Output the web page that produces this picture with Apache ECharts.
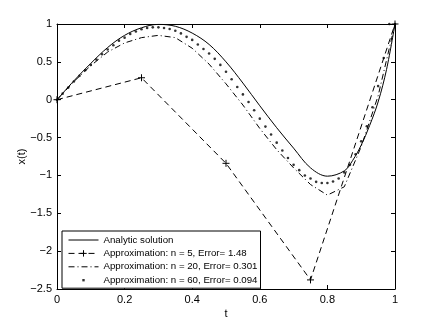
<!DOCTYPE html>
<html>
<head>
<meta charset="utf-8">
<script src="https://cdn.jsdelivr.net/npm/echarts@6/dist/echarts.min.js"></script>
<style>
  html, body { margin: 0; padding: 0; background: #fff; }
  #chart { width: 436px; height: 328px; }
</style>
</head>
<body>
<div id="chart"></div>
<script>
// analytic solution
const tAnalytic = [0, 0.05, 0.1, 0.15, 0.2, 0.25, 0.3, 0.35, 0.4, 0.45, 0.5, 0.55, 0.6, 0.65, 0.7, 0.75, 0.8, 0.85, 0.875, 0.9, 0.925, 0.95, 0.975, 1]
const xAnalytic = [0, 0.25, 0.48, 0.69, 0.85, 0.95, 0.995, 0.97, 0.88, 0.73, 0.5, 0.22, -0.08, -0.37, -0.64, -0.9, -1.01, -0.94, -0.8, -0.6, -0.34, -0.03, 0.4, 1]

// n = 5
const t5 = [0, 0.25, 0.5, 0.75, 1]
const x5 = [0, 0.29, -0.84, -2.38, 1]

// n = 20
const t20 = [0, 0.05, 0.1, 0.15, 0.2, 0.25, 0.3, 0.35, 0.4, 0.45, 0.5, 0.55, 0.6, 0.65, 0.7, 0.75, 0.8, 0.85, 0.9, 0.95, 1]
const x20 = [0, 0.24, 0.45, 0.63, 0.75, 0.82, 0.85, 0.82, 0.68, 0.47, 0.21, -0.07, -0.38, -0.66, -0.9, -1.12, -1.26, -1.15, -0.62, 0.05, 1]

// n = 60 (one dot per grid point k/60)
const x60 = [0, 0.08, 0.16, 0.24, 0.315, 0.39, 0.46, 0.53, 0.6, 0.664,
  0.72, 0.78, 0.82, 0.867, 0.9, 0.93, 0.947, 0.956, 0.956, 0.947,
  0.934, 0.91, 0.876, 0.83, 0.79, 0.73, 0.67, 0.61, 0.54, 0.46,
  0.37, 0.27, 0.167, 0.07, -0.03, -0.14, -0.25, -0.355, -0.46, -0.567,
  -0.67, -0.77, -0.86, -0.93, -1.0, -1.04, -1.085, -1.1, -1.1, -1.08,
  -1.04, -0.96, -0.86, -0.72, -0.55, -0.35, -0.1, 0.18, 0.55, 1.0, 1.0]
const t60 = x60.map((_, i) => i / 60)

const xTicks = { min: 0, max: 1, interval: 0.2 }
const yTicks = { min: -2.5, max: 1, interval: 0.5 }

const names = [
  'Analytic solution',
  'Approximation: n = 5, Error= 1.48',
  'Approximation: n = 20, Error= 0.301',
  'Approximation: n = 60, Error= 0.094'
]

const font = '"Liberation Sans", Arial, Helvetica, sans-serif'
const pairs = (ts, xs) => ts.map((t, i) => [t, xs[i]])
const minus = v => String(v).replace('-', '\u2212')

function axis(extra) {
  return Object.assign({
    type: 'value',
    splitLine: { show: false },
    axisLine: { show: true, onZero: false, lineStyle: { color: '#000', width: 1 } },
    axisTick: { show: true, inside: true, length: 4, lineStyle: { color: '#000', width: 1 } },
    axisLabel: { show: false }
  }, extra)
}

const label = {
  show: true,
  color: '#000',
  fontSize: 11,
  fontFamily: font,
  margin: 5,
  formatter: minus
}

const noSymbol = { opacity: 0 }

let option = {
  animation: false,
  backgroundColor: '#fff',
  grid: { left: 57, right: 41, top: 24, bottom: 39 },
  legend: {
    orient: 'vertical',
    left: 62,
    top: 231,
    padding: [3, 3, 2, 6],
    itemGap: 1.4,
    itemWidth: 30,
    itemHeight: 8,
    borderColor: '#000',
    borderWidth: 1,
    backgroundColor: '#fff',
    lineStyle: { width: 1 },
    itemStyle: { borderWidth: 1 },
    textStyle: { fontSize: 9.7, fontFamily: font, color: '#000', lineHeight: 12 },
    data: [
      { name: names[0], itemStyle: noSymbol },
      names[1],
      { name: names[2], itemStyle: noSymbol },
      { name: names[3], icon: 'path://M0,0M30,0M30,8M0,8M13.8,2.8L16.2,2.8L16.2,5.2L13.8,5.2Z' }
    ]
  },
  xAxis: [
    axis(Object.assign({
      position: 'bottom',
      axisLabel: label,
      name: 't',
      nameLocation: 'middle',
      nameGap: 19,
      nameMoveOverlap: false,
      nameTextStyle: { fontSize: 11, fontFamily: font, color: '#000' }
    }, xTicks)),
    axis(Object.assign({ position: 'top' }, xTicks))
  ],
  yAxis: [
    axis(Object.assign({
      position: 'left',
      axisLabel: label,
      name: 'x(t)',
      nameLocation: 'middle',
      nameGap: 30,
      nameMoveOverlap: false,
      nameTextStyle: { fontSize: 11, fontFamily: font, color: '#000' }
    }, yTicks)),
    axis(Object.assign({ position: 'right' }, yTicks))
  ],
  series: [
    {
      name: names[0],
      type: 'line',
      data: pairs(tAnalytic, xAnalytic),
      smooth: 0.35,
      symbol: 'none',
      color: '#000',
      lineStyle: { color: '#000', width: 1 }
    },
    {
      name: names[1],
      type: 'line',
      data: pairs(t5, x5),
      symbol: 'path://M0,5L10,5M5,0L5,10',
      symbolSize: 7,
      color: '#000',
      itemStyle: { color: '#000', borderColor: '#000', borderWidth: 1 },
      lineStyle: { color: '#000', width: 1, type: [6, 4] }
    },
    {
      name: names[2],
      type: 'line',
      data: pairs(t20, x20),
      symbol: 'none',
      color: '#000',
      lineStyle: { color: '#000', width: 1, type: [6, 3, 1, 3] }
    },
    {
      name: names[3],
      type: 'scatter',
      data: pairs(t60, x60),
      symbol: 'circle',
      symbolSize: 2.6,
      color: '#000',
      itemStyle: { color: '#000' },
      z: 3
    }
  ]
}

let chart = echarts.init(document.getElementById('chart'))
chart.setOption(option)
</script>
</body>
</html>
